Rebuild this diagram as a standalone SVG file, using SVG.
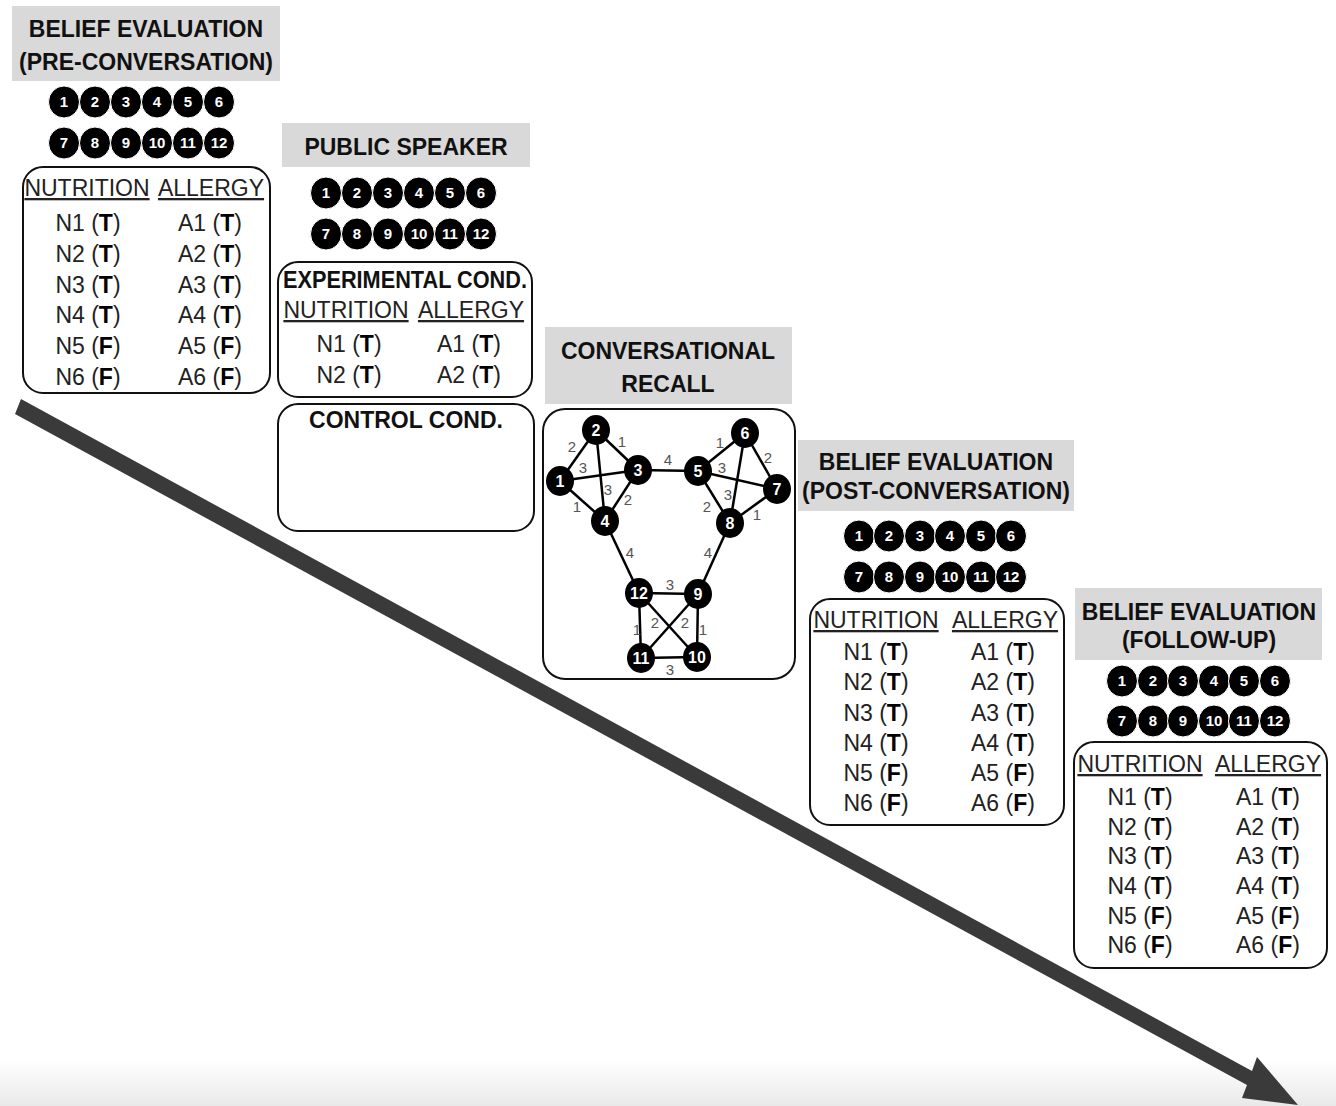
<svg xmlns="http://www.w3.org/2000/svg" width="1336" height="1106" viewBox="0 0 1336 1106">
<defs>
<linearGradient id="floor" x1="0" y1="0" x2="0" y2="1">
<stop offset="0" stop-color="#ffffff"/>
<stop offset="1" stop-color="#e9e9e9"/>
</linearGradient>
<style>
.hdr{fill:#d9d9d9}
.ht{font-family:"Liberation Sans",Arial,sans-serif;font-weight:bold;font-size:23px;fill:#111;text-anchor:middle}
.box{fill:#fff;stroke:#111;stroke-width:2}
.col{font-family:"Liberation Sans",Arial,sans-serif;font-size:23px;fill:#222;text-anchor:middle;text-decoration:underline}
.row{font-family:"Liberation Sans",Arial,sans-serif;font-size:23px;fill:#222;text-anchor:middle}
.b{font-weight:bold;fill:#000}
.dot{fill:#000;stroke:#fff;stroke-width:1}
.dn{font-family:"Liberation Sans",Arial,sans-serif;font-weight:bold;font-size:15px;fill:#fff;text-anchor:middle}
.gn{fill:#000}
.gt{font-family:"Liberation Sans",Arial,sans-serif;font-weight:bold;font-size:16px;fill:#fff;text-anchor:middle}
.edge{stroke:#000;stroke-width:2.5;fill:none}
.el{font-family:"Liberation Sans",Arial,sans-serif;font-size:15px;fill:#555;text-anchor:middle}
</style>
</defs>
<rect x="0" y="0" width="1336" height="1106" fill="#fff"/>
<rect x="0" y="1060" width="1336" height="46" fill="url(#floor)"/>

<g id="connectors">
<polygon id="timeline-arrow" points="21,399 1252,1071 1257,1057 1298,1105 1242,1098 1247,1085 15,414" fill="#3a3a3a"/>
</g>

<g id="pre-conversation">
<rect class="hdr" x="12" y="6" width="268" height="75"/>
<text class="ht" x="146" y="37">BELIEF EVALUATION</text>
<text class="ht" x="146" y="70">(PRE-CONVERSATION)</text>
<g>
<ellipse class="dot" cx="64" cy="102" rx="15.5" ry="16"/><ellipse class="dot" cx="95" cy="102" rx="15.5" ry="16"/><ellipse class="dot" cx="126" cy="102" rx="15.5" ry="16"/><ellipse class="dot" cx="157" cy="102" rx="15.5" ry="16"/><ellipse class="dot" cx="188" cy="102" rx="15.5" ry="16"/><ellipse class="dot" cx="219" cy="102" rx="15.5" ry="16"/>
<ellipse class="dot" cx="64" cy="143" rx="15.5" ry="16"/><ellipse class="dot" cx="95" cy="143" rx="15.5" ry="16"/><ellipse class="dot" cx="126" cy="143" rx="15.5" ry="16"/><ellipse class="dot" cx="157" cy="143" rx="15.5" ry="16"/><ellipse class="dot" cx="188" cy="143" rx="15.5" ry="16"/><ellipse class="dot" cx="219" cy="143" rx="15.5" ry="16"/>
<text class="dn" x="64" y="107">1</text><text class="dn" x="95" y="107">2</text><text class="dn" x="126" y="107">3</text><text class="dn" x="157" y="107">4</text><text class="dn" x="188" y="107">5</text><text class="dn" x="219" y="107">6</text>
<text class="dn" x="64" y="148">7</text><text class="dn" x="95" y="148">8</text><text class="dn" x="126" y="148">9</text><text class="dn" x="157" y="148">10</text><text class="dn" x="188" y="148">11</text><text class="dn" x="219" y="148">12</text>
</g>
<rect class="box" x="23" y="167" width="247" height="226" rx="20"/>
<text class="col" x="87" y="196">NUTRITION</text>
<text class="col" x="211" y="196">ALLERGY</text>
<text class="row" x="88" y="231">N1 (<tspan class="b">T</tspan>)</text><text class="row" x="210" y="231">A1 (<tspan class="b">T</tspan>)</text>
<text class="row" x="88" y="262">N2 (<tspan class="b">T</tspan>)</text><text class="row" x="210" y="262">A2 (<tspan class="b">T</tspan>)</text>
<text class="row" x="88" y="293">N3 (<tspan class="b">T</tspan>)</text><text class="row" x="210" y="293">A3 (<tspan class="b">T</tspan>)</text>
<text class="row" x="88" y="323">N4 (<tspan class="b">T</tspan>)</text><text class="row" x="210" y="323">A4 (<tspan class="b">T</tspan>)</text>
<text class="row" x="88" y="354">N5 (<tspan class="b">F</tspan>)</text><text class="row" x="210" y="354">A5 (<tspan class="b">F</tspan>)</text>
<text class="row" x="88" y="385">N6 (<tspan class="b">F</tspan>)</text><text class="row" x="210" y="385">A6 (<tspan class="b">F</tspan>)</text>
</g>

<g id="public-speaker">
<rect class="hdr" x="282" y="123" width="248" height="44"/>
<text class="ht" x="406" y="155">PUBLIC SPEAKER</text>
<g>
<ellipse class="dot" cx="326" cy="193" rx="15.5" ry="16"/><ellipse class="dot" cx="357" cy="193" rx="15.5" ry="16"/><ellipse class="dot" cx="388" cy="193" rx="15.5" ry="16"/><ellipse class="dot" cx="419" cy="193" rx="15.5" ry="16"/><ellipse class="dot" cx="450" cy="193" rx="15.5" ry="16"/><ellipse class="dot" cx="481" cy="193" rx="15.5" ry="16"/>
<ellipse class="dot" cx="326" cy="234" rx="15.5" ry="16"/><ellipse class="dot" cx="357" cy="234" rx="15.5" ry="16"/><ellipse class="dot" cx="388" cy="234" rx="15.5" ry="16"/><ellipse class="dot" cx="419" cy="234" rx="15.5" ry="16"/><ellipse class="dot" cx="450" cy="234" rx="15.5" ry="16"/><ellipse class="dot" cx="481" cy="234" rx="15.5" ry="16"/>
<text class="dn" x="326" y="198">1</text><text class="dn" x="357" y="198">2</text><text class="dn" x="388" y="198">3</text><text class="dn" x="419" y="198">4</text><text class="dn" x="450" y="198">5</text><text class="dn" x="481" y="198">6</text>
<text class="dn" x="326" y="239">7</text><text class="dn" x="357" y="239">8</text><text class="dn" x="388" y="239">9</text><text class="dn" x="419" y="239">10</text><text class="dn" x="450" y="239">11</text><text class="dn" x="481" y="239">12</text>
</g>
<g id="experimental-cond">
<rect class="box" x="278" y="262" width="254" height="135" rx="20"/>
<text class="ht" x="405" y="288" textLength="244" lengthAdjust="spacingAndGlyphs">EXPERIMENTAL COND.</text>
<text class="col" x="346" y="318">NUTRITION</text>
<text class="col" x="471" y="318">ALLERGY</text>
<text class="row" x="349" y="352">N1 (<tspan class="b">T</tspan>)</text><text class="row" x="469" y="352">A1 (<tspan class="b">T</tspan>)</text>
<text class="row" x="349" y="383">N2 (<tspan class="b">T</tspan>)</text><text class="row" x="469" y="383">A2 (<tspan class="b">T</tspan>)</text>
</g>
<g id="control-cond">
<rect class="box" x="278" y="404" width="256" height="127" rx="20"/>
<text class="ht" x="406" y="428">CONTROL COND.</text>
</g>
</g>

<g id="conversational-recall">
<rect class="hdr" x="545" y="327" width="247" height="77"/>
<text class="ht" x="668" y="359">CONVERSATIONAL</text>
<text class="ht" x="668" y="392">RECALL</text>
<rect class="box" x="543" y="409" width="252" height="270" rx="22"/>
<g id="graph-edges">
<line class="edge" x1="560" y1="481" x2="596" y2="430"/>
<line class="edge" x1="596" y1="430" x2="638" y2="470"/>
<line class="edge" x1="560" y1="481" x2="638" y2="470"/>
<line class="edge" x1="596" y1="430" x2="605" y2="521"/>
<line class="edge" x1="560" y1="481" x2="605" y2="521"/>
<line class="edge" x1="638" y1="470" x2="605" y2="521"/>
<line class="edge" x1="638" y1="470" x2="698" y2="471"/>
<line class="edge" x1="698" y1="471" x2="745" y2="433"/>
<line class="edge" x1="745" y1="433" x2="777" y2="489"/>
<line class="edge" x1="698" y1="471" x2="777" y2="489"/>
<line class="edge" x1="745" y1="433" x2="730" y2="523"/>
<line class="edge" x1="698" y1="471" x2="730" y2="523"/>
<line class="edge" x1="777" y1="489" x2="730" y2="523"/>
<line class="edge" x1="605" y1="521" x2="639" y2="593"/>
<line class="edge" x1="730" y1="523" x2="698" y2="594"/>
<line class="edge" x1="639" y1="593" x2="698" y2="594"/>
<line class="edge" x1="639" y1="593" x2="641" y2="658"/>
<line class="edge" x1="698" y1="594" x2="697" y2="657"/>
<line class="edge" x1="641" y1="658" x2="697" y2="657"/>
<line class="edge" x1="639" y1="593" x2="697" y2="657"/>
<line class="edge" x1="698" y1="594" x2="641" y2="658"/>
</g>
<g id="graph-edge-labels">
<text class="el" x="572" y="452">2</text>
<text class="el" x="622" y="447">1</text>
<text class="el" x="583" y="473">3</text>
<text class="el" x="608" y="495">3</text>
<text class="el" x="577" y="512">1</text>
<text class="el" x="628" y="505">2</text>
<text class="el" x="668" y="465">4</text>
<text class="el" x="720" y="448">1</text>
<text class="el" x="768" y="463">2</text>
<text class="el" x="722" y="473">3</text>
<text class="el" x="728" y="500">3</text>
<text class="el" x="707" y="512">2</text>
<text class="el" x="757" y="520">1</text>
<text class="el" x="630" y="558">4</text>
<text class="el" x="708" y="558">4</text>
<text class="el" x="670" y="590">3</text>
<text class="el" x="637" y="635">1</text>
<text class="el" x="655" y="628">2</text>
<text class="el" x="685" y="628">2</text>
<text class="el" x="703" y="635">1</text>
<text class="el" x="670" y="675">3</text>
</g>
<g id="graph-nodes">
<g id="gn1"><ellipse class="gn" cx="560" cy="481" rx="14" ry="15"/><text class="gt" x="560" y="487">1</text></g>
<g id="gn2"><ellipse class="gn" cx="596" cy="430" rx="14" ry="15"/><text class="gt" x="596" y="436">2</text></g>
<g id="gn3"><ellipse class="gn" cx="638" cy="470" rx="14" ry="15"/><text class="gt" x="638" y="476">3</text></g>
<g id="gn4"><ellipse class="gn" cx="605" cy="521" rx="14" ry="15"/><text class="gt" x="605" y="527">4</text></g>
<g id="gn5"><ellipse class="gn" cx="698" cy="471" rx="14" ry="15"/><text class="gt" x="698" y="477">5</text></g>
<g id="gn6"><ellipse class="gn" cx="745" cy="433" rx="14" ry="15"/><text class="gt" x="745" y="439">6</text></g>
<g id="gn7"><ellipse class="gn" cx="777" cy="489" rx="14" ry="15"/><text class="gt" x="777" y="495">7</text></g>
<g id="gn8"><ellipse class="gn" cx="730" cy="523" rx="14" ry="15"/><text class="gt" x="730" y="529">8</text></g>
<g id="gn9"><ellipse class="gn" cx="698" cy="594" rx="14" ry="15"/><text class="gt" x="698" y="600">9</text></g>
<g id="gn10"><ellipse class="gn" cx="697" cy="657" rx="14" ry="15"/><text class="gt" x="697" y="663">10</text></g>
<g id="gn11"><ellipse class="gn" cx="641" cy="658" rx="14" ry="15"/><text class="gt" x="641" y="664">11</text></g>
<g id="gn12"><ellipse class="gn" cx="639" cy="593" rx="14" ry="15"/><text class="gt" x="639" y="599">12</text></g>
</g>
</g>

<g id="post-conversation">
<rect class="hdr" x="798" y="440" width="276" height="71"/>
<text class="ht" x="936" y="470">BELIEF EVALUATION</text>
<text class="ht" x="936" y="499">(POST-CONVERSATION)</text>
<g>
<ellipse class="dot" cx="859" cy="536" rx="15.5" ry="16"/><ellipse class="dot" cx="889" cy="536" rx="15.5" ry="16"/><ellipse class="dot" cx="920" cy="536" rx="15.5" ry="16"/><ellipse class="dot" cx="950" cy="536" rx="15.5" ry="16"/><ellipse class="dot" cx="981" cy="536" rx="15.5" ry="16"/><ellipse class="dot" cx="1011" cy="536" rx="15.5" ry="16"/>
<ellipse class="dot" cx="859" cy="577" rx="15.5" ry="16"/><ellipse class="dot" cx="889" cy="577" rx="15.5" ry="16"/><ellipse class="dot" cx="920" cy="577" rx="15.5" ry="16"/><ellipse class="dot" cx="950" cy="577" rx="15.5" ry="16"/><ellipse class="dot" cx="981" cy="577" rx="15.5" ry="16"/><ellipse class="dot" cx="1011" cy="577" rx="15.5" ry="16"/>
<text class="dn" x="859" y="541">1</text><text class="dn" x="889" y="541">2</text><text class="dn" x="920" y="541">3</text><text class="dn" x="950" y="541">4</text><text class="dn" x="981" y="541">5</text><text class="dn" x="1011" y="541">6</text>
<text class="dn" x="859" y="582">7</text><text class="dn" x="889" y="582">8</text><text class="dn" x="920" y="582">9</text><text class="dn" x="950" y="582">10</text><text class="dn" x="981" y="582">11</text><text class="dn" x="1011" y="582">12</text>
</g>
<rect class="box" x="810" y="599" width="254" height="226" rx="20"/>
<text class="col" x="876" y="628">NUTRITION</text>
<text class="col" x="1005" y="628">ALLERGY</text>
<text class="row" x="876" y="660">N1 (<tspan class="b">T</tspan>)</text><text class="row" x="1003" y="660">A1 (<tspan class="b">T</tspan>)</text>
<text class="row" x="876" y="690">N2 (<tspan class="b">T</tspan>)</text><text class="row" x="1003" y="690">A2 (<tspan class="b">T</tspan>)</text>
<text class="row" x="876" y="721">N3 (<tspan class="b">T</tspan>)</text><text class="row" x="1003" y="721">A3 (<tspan class="b">T</tspan>)</text>
<text class="row" x="876" y="751">N4 (<tspan class="b">T</tspan>)</text><text class="row" x="1003" y="751">A4 (<tspan class="b">T</tspan>)</text>
<text class="row" x="876" y="781">N5 (<tspan class="b">F</tspan>)</text><text class="row" x="1003" y="781">A5 (<tspan class="b">F</tspan>)</text>
<text class="row" x="876" y="811">N6 (<tspan class="b">F</tspan>)</text><text class="row" x="1003" y="811">A6 (<tspan class="b">F</tspan>)</text>
</g>

<g id="follow-up">
<rect class="hdr" x="1075" y="588" width="247" height="72"/>
<text class="ht" x="1199" y="620">BELIEF EVALUATION</text>
<text class="ht" x="1199" y="648">(FOLLOW-UP)</text>
<g>
<ellipse class="dot" cx="1122" cy="681" rx="15.5" ry="16"/><ellipse class="dot" cx="1153" cy="681" rx="15.5" ry="16"/><ellipse class="dot" cx="1183" cy="681" rx="15.5" ry="16"/><ellipse class="dot" cx="1214" cy="681" rx="15.5" ry="16"/><ellipse class="dot" cx="1244" cy="681" rx="15.5" ry="16"/><ellipse class="dot" cx="1275" cy="681" rx="15.5" ry="16"/>
<ellipse class="dot" cx="1122" cy="721" rx="15.5" ry="16"/><ellipse class="dot" cx="1153" cy="721" rx="15.5" ry="16"/><ellipse class="dot" cx="1183" cy="721" rx="15.5" ry="16"/><ellipse class="dot" cx="1214" cy="721" rx="15.5" ry="16"/><ellipse class="dot" cx="1244" cy="721" rx="15.5" ry="16"/><ellipse class="dot" cx="1275" cy="721" rx="15.5" ry="16"/>
<text class="dn" x="1122" y="686">1</text><text class="dn" x="1153" y="686">2</text><text class="dn" x="1183" y="686">3</text><text class="dn" x="1214" y="686">4</text><text class="dn" x="1244" y="686">5</text><text class="dn" x="1275" y="686">6</text>
<text class="dn" x="1122" y="726">7</text><text class="dn" x="1153" y="726">8</text><text class="dn" x="1183" y="726">9</text><text class="dn" x="1214" y="726">10</text><text class="dn" x="1244" y="726">11</text><text class="dn" x="1275" y="726">12</text>
</g>
<rect class="box" x="1074" y="742" width="253" height="226" rx="20"/>
<text class="col" x="1140" y="772">NUTRITION</text>
<text class="col" x="1268" y="772">ALLERGY</text>
<text class="row" x="1140" y="805">N1 (<tspan class="b">T</tspan>)</text><text class="row" x="1268" y="805">A1 (<tspan class="b">T</tspan>)</text>
<text class="row" x="1140" y="835">N2 (<tspan class="b">T</tspan>)</text><text class="row" x="1268" y="835">A2 (<tspan class="b">T</tspan>)</text>
<text class="row" x="1140" y="864">N3 (<tspan class="b">T</tspan>)</text><text class="row" x="1268" y="864">A3 (<tspan class="b">T</tspan>)</text>
<text class="row" x="1140" y="894">N4 (<tspan class="b">T</tspan>)</text><text class="row" x="1268" y="894">A4 (<tspan class="b">T</tspan>)</text>
<text class="row" x="1140" y="924">N5 (<tspan class="b">F</tspan>)</text><text class="row" x="1268" y="924">A5 (<tspan class="b">F</tspan>)</text>
<text class="row" x="1140" y="953">N6 (<tspan class="b">F</tspan>)</text><text class="row" x="1268" y="953">A6 (<tspan class="b">F</tspan>)</text>
</g>
</svg>
